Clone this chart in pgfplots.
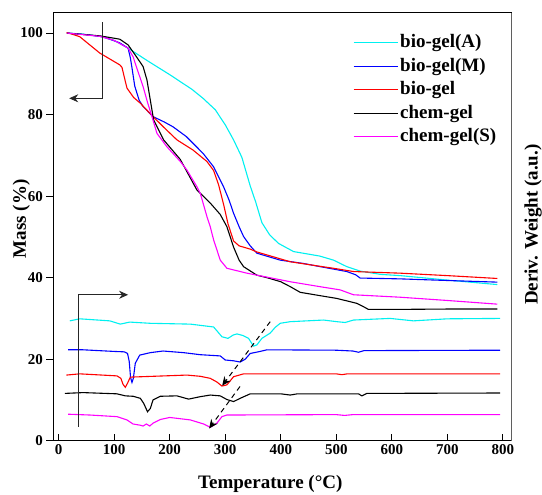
\documentclass[border=0pt]{standalone}
\usepackage{fontspec}
\setmainfont{Liberation Serif}
\usepackage{pgfplots}
\pgfplotsset{compat=1.18}
\usetikzlibrary{arrows.meta}
\definecolor{cA}{RGB}{0,240,240}
\definecolor{cM}{RGB}{0,0,255}
\definecolor{cB}{RGB}{255,0,0}
\definecolor{cC}{RGB}{0,0,0}
\definecolor{cS}{RGB}{255,0,255}
\begin{document}
\begin{tikzpicture}
\begin{axis}[
  scale only axis, width=458.4pt, height=428pt,
  xmin=-9.7, xmax=816, ymin=0, ymax=105,
  xtick={0,100,...,800}, ytick={0,20,...,100},
  xtick pos=left, ytick pos=left,
  xtick align=inside, ytick align=outside,
  major tick length=7pt,
  tick style={black, line width=0.9pt},
  axis line style={line width=1.3pt},
  /pgf/number format/assume math mode=true,
  ticklabel style={font=\fontsize{15}{15}\selectfont\bfseries},
  legend style={at={(rel axis cs:0.647,0.962)}, anchor=north west, draw=none, fill=none,
    font=\fontsize{19}{19}\selectfont\bfseries, row sep=0pt,
    nodes={inner sep=2pt, text height=14.5pt, text depth=5pt}},
  legend image code/.code={\draw[#1, line width=1.1pt] (0pt,0pt) -- (44pt,0pt);},
  legend cell align=left,
  every axis plot/.append style={line width=1.1pt},
]
% ---------- TG curves ----------
\addplot[cA] coordinates {(15,100)(40,99.8)(74,99.2)(100,98.2)(125,96.3)(160,93.2)(200,89.8)(240,86.2)(260,84.0)(282,81.2)(300,77.5)(315,73.8)(330,69.5)(345,62.5)(355,58.5)(366,53.5)(380,50.5)(396,48.4)(423,46.4)(470,45.3)(495,44.3)(519,42.7)(543,41.6)(580,40.8)(615,40.5)(700,39.4)(790,38.3)};
\addlegendentry{bio-gel(A)}
\addplot[cM] coordinates {(15,100)(50,99.6)(80,99.1)(110,97.6)(125,96.3)(129,94)(132,91.5)(137,87)(145,83.5)(152,82)(170,79.5)(190,78.2)(206,77)(230,74.6)(260,70.5)(279,67.2)(297,62.3)(307,59)(315,55.8)(325,52.5)(333,50.1)(345,47.8)(357,46)(399,44.3)(440,43.5)(471,42.7)(519,41.5)(535,40.7)(543,39.9)(615,39.7)(700,39.3)(790,38.9)};
\addlegendentry{bio-gel(M)}
\addplot[cB] coordinates {(14,100.1)(25,99.7)(38,99.1)(74,95.1)(110,92.2)(114,91.6)(118,89.3)(123,86.5)(135,84.2)(147,82.8)(170,79.5)(190,76.8)(213,73.8)(242,71.3)(267,68.5)(279,66.3)(288,62.8)(297,58)(305,53.2)(315,49)(325,47.8)(345,47.0)(357,46.3)(417,43.9)(470,42.8)(495,42.3)(531,41.5)(615,41.1)(700,40.5)(790,39.8)};
\addlegendentry{bio-gel}
\addplot[cC] coordinates {(15,100)(75,99.3)(110,98.5)(125,97.1)(140,94.2)(152,91.8)(159,88.5)(165,83.6)(171,78.7)(189,73.8)(219,69)(249,61.5)(273,58.3)(291,55.5)(303,52.5)(315,47.5)(325,44.3)(333,42.7)(357,40.6)(375,40.0)(400,39)(417,37.8)(435,36.4)(470,35.6)(501,34.9)(537,33.7)(550,32.8)(558,32.2)(600,32.2)(700,32.3)(790,32.3)};
\addlegendentry{chem-gel}
\addplot[cS] coordinates {(15,100)(74,99.2)(100,98.2)(125,96.3)(134,94.2)(143,90.5)(152,86.9)(160,83)(168,79.5)(177,75.4)(195,72.1)(219,68.5)(231,66.4)(249,62.3)(255,60.7)(267,55)(273,52.5)(279,49.3)(285,46.8)(291,44.3)(303,42.3)(339,41.1)(417,39.0)(470,37.8)(507,37.0)(531,35.8)(615,35.2)(700,34.4)(790,33.5)};
\addlegendentry{chem-gel(S)}
% ---------- DTG curves ----------
\addplot[cA, forget plot] coordinates {(20,29.4)(38,29.9)(92,29.4)(111,28.6)(128,29.1)(165,28.8)(237,28.6)(279,27.9)(286,26.8)(294,25.5)(305,25.1)(314,25.9)(321,26.2)(332,25.8)(342,25.1)(351,23.2)(357,23.5)(366,25.1)(381,26.4)(390,27.8)(399,28.8)(417,29.2)(477,29.6)(501,29.2)(516,29.0)(531,29.6)(597,30.0)(639,29.4)(700,29.9)(795,30.0)};
\addplot[cM, forget plot] coordinates {(17,22.3)(44,22.3)(100,21.9)(118,21.8)(124,21.4)(127,19.5)(129.5,15.5)(132,14.3)(134.5,15.3)(138,19.0)(146,21.0)(165,21.6)(188,22.0)(225,21.6)(255,21.1)(291,20.8)(300,19.8)(315,19.6)(327,19.3)(336,20.0)(345,21.4)(363,21.9)(375,22.3)(500,22.2)(530,22.0)(540,21.7)(550,22.1)(795,22.2)};
\addplot[cB, forget plot] coordinates {(14,16.1)(38,16.4)(105,15.9)(112,15.3)(116,13.8)(120,13.1)(124,14.1)(129,15.6)(150,15.7)(231,16.1)(255,15.8)(273,15.3)(285,14.4)(294,13.4)(303,13.7)(315,15.7)(333,16.4)(500,16.4)(510,16.2)(520,16.4)(795,16.4)};
\addplot[cC, forget plot] coordinates {(11,11.6)(44,11.8)(105,11.5)(120,11.0)(134,10.9)(147,10.4)(153,9.2)(160,7.1)(165,7.9)(170,10.0)(183,10.9)(213,11.0)(234,10.2)(255,10.8)(273,11.2)(291,11.0)(303,10.1)(315,9.6)(327,10.4)(345,11.5)(400,11.5)(417,11.2)(430,11.5)(540,11.5)(546,11.0)(555,11.6)(795,11.7)};
\addplot[cS, forget plot] coordinates {(17,6.5)(56,6.3)(105,5.9)(123,5.1)(134,4.1)(147,3.8)(152,3.6)(158,4.1)(164,3.6)(170,4.3)(183,5.2)(200,5.7)(237,5.1)(261,4.1)(273,3.3)(285,4.3)(294,5.9)(303,6.3)(500,6.4)(515,6.2)(530,6.4)(795,6.4)};
% ---------- annotations ----------
\draw[black!85, line width=0.8pt, -{Stealth[length=9pt,width=8pt,inset=3pt]}] (axis cs:79,102.7) -- (axis cs:79,84) -- (axis cs:19,84);
\draw[black!85, line width=0.8pt, -{Stealth[length=9pt,width=8pt,inset=3pt]}] (axis cs:36,3.4) -- (axis cs:36,35.8) -- (axis cs:125,35.8);
\draw[black, line width=1pt, dash pattern=on 5pt off 4pt, -{Stealth[length=9pt,width=8pt,inset=3pt]}] (axis cs:381,29.2) -- (axis cs:294.5,13.5);
\draw[black, line width=1pt, dash pattern=on 5pt off 4pt, -{Stealth[length=9pt,width=8pt,inset=3pt]}] (axis cs:326.6,13.3) -- (axis cs:271,3.0);
\draw[gray!85, line width=1.3pt] (rel axis cs:1,0) -- (rel axis cs:1,1);
\coordinate (SW) at (rel axis cs:0,0);
\coordinate (NE) at (rel axis cs:1,1);
\end{axis}
\node[font=\fontsize{19}{19}\selectfont\bfseries] at ([xshift=217pt,yshift=-43pt]SW) {Temperature (°C)};
\node[font=\fontsize{19}{19}\selectfont\bfseries, rotate=90] at ([xshift=-32pt,yshift=222pt]SW) {Mass (\%)};
\node[font=\fontsize{19}{19}\selectfont\bfseries, rotate=90] at ([xshift=21.5pt,yshift=-212pt]NE) {Deriv. Weight (a.u.)};
\pgfresetboundingbox
\useasboundingbox ([shift={(-53.3pt,-53.3pt)}]SW) rectangle ([shift={(30.3pt,12.7pt)}]NE);
\end{tikzpicture}
\end{document}
